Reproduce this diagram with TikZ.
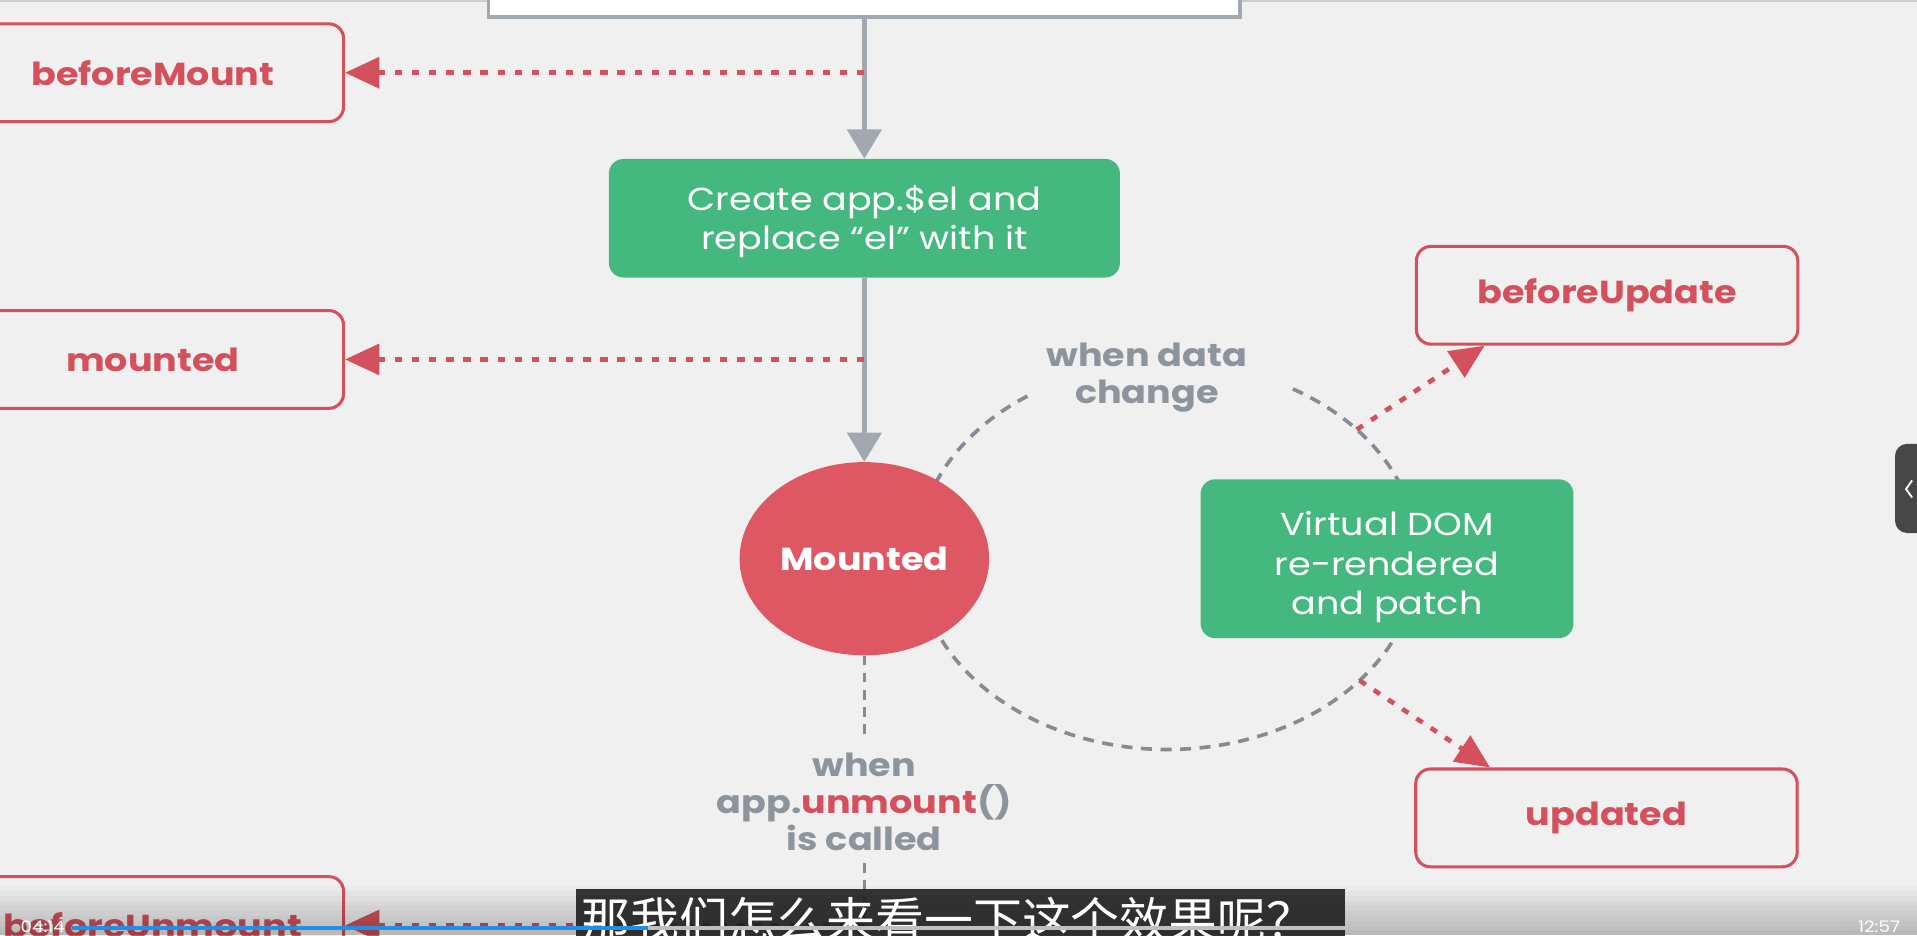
\documentclass[tikz,border=0pt]{standalone}
\usepackage{fontspec}
\setmainfont{Poppins}[FakeStretch=1.15]
\newfontfamily\cjk{Noto Sans CJK SC}
\usetikzlibrary{arrows.meta,shapes.geometric,positioning}

\definecolor{bgc}{HTML}{F0F0F0}
\definecolor{hookred}{HTML}{D4505C}
\definecolor{mountred}{HTML}{DD5863}
\definecolor{stagegreen}{HTML}{45B880}
\definecolor{flowgray}{HTML}{A1A8B0}
\definecolor{loopgray}{HTML}{868C94}
\definecolor{notegray}{HTML}{8C949D}
\definecolor{barblue}{HTML}{1E90E8}

\newcommand\hookfont{\fontsize{26}{30}\selectfont\bfseries}
\newcommand\stagefont{\fontsize{26}{32}\selectfont}
% lower the lines of a box text without changing the box
\newcommand\lowered[2]{\raisebox{-#1}[\height][\depth]{\begin{tabular}{@{}c@{}}#2\end{tabular}}}

\tikzset{
  hook/.style={draw=hookred, line width=2.5pt, rounded corners=12pt, fill=bgc,
    minimum width=312pt, minimum height=80pt, text=hookred, font=\hookfont},
  stage/.style={fill=stagegreen, rounded corners=12pt, text=white, align=center, font=\stagefont},
  flow/.style={draw=flowgray, line width=3.5pt, -{Triangle[length=24pt,width=28pt]}},
  hookarrow/.style={draw=hookred, line width=3.8pt, dash pattern=on 6pt off 8pt,
    -{Triangle[length=28pt,width=25pt]}},
  loopline/.style={draw=loopgray, line width=3pt, dash pattern=on 9pt off 7pt},
  note/.style={text=notegray, font=\hookfont, align=center, inner sep=10pt}
}

\begin{document}
\begin{tikzpicture}[x=1pt,y=-1pt]
\clip (0,0) rectangle (1568,765);
\fill[bgc] (0,0) rectangle (1568,765);
\draw[line width=2pt, black!20] (0,1) -- (1568,1);

% creation part
\node[draw=flowgray, fill=white, line width=3pt, minimum width=615pt, minimum height=60pt] (init) at (707,-16) {};
\node[stage, minimum width=418pt, minimum height=97pt] (create) at (707,178.5) {\lowered{3pt}{Create app.\$el and\\replace “el” with it}};

% update loop
\coordinate (loopc) at (955,455);
\draw[loopline] (loopc) ++(-60:205 and 158) arc[start angle=-60, end angle=236, x radius=205, y radius=158];
\node[note] (dataLbl) at (938,309) {when data\\change};

\node[ellipse, fill=mountred, minimum width=204pt, minimum height=158pt, text=white, font=\hookfont] (mounted) at (707,457) {Mounted};
\node[stage, minimum width=305pt, minimum height=130pt] (vdom) at (1134.5,457) {\lowered{7pt}{Virtual DOM\\re-rendered\\and patch}};

\draw[flow] (init) -- (create);
\draw[flow] (create) -- (mounted);

% hooks
\node[hook] (beforeMount) at (125,59.5) {beforeMount};
\node[hook] (mountedHook) at (125,294) {mounted};
\node[hook] (beforeUnmount) at (125,757) {beforeUnmount};
\node[hook] (beforeUpdate) at (1314.5,241.5) {beforeUpdate};
\node[hook] (updated) at (1314,669) {updated};

\coordinate (bmHook) at (init.south |- beforeMount.east);
\coordinate (mdHook) at (create.south |- mountedHook.east);
\draw[hookarrow] (bmHook) -- (beforeMount);
\draw[hookarrow] (mdHook) -- (mountedHook);

\coordinate (updOut) at ([shift={(-41:205 and 158)}]loopc);
\coordinate (updIn) at ([shift={(40:205 and 158)}]loopc);
\draw[hookarrow] (updOut) -- ([xshift=57pt]beforeUpdate.south west);
\draw[hookarrow] (updIn) -- ([xshift=62pt]updated.north west);

% unmount
\node[note] (unmountLbl) at (707,656) {when\\app.\textcolor{hookred}{unmount}()\\is called};
\draw[loopline, dash pattern=on 8pt off 6pt] (mounted.south) -- (unmountLbl.north);
\coordinate (buHook) at (unmountLbl.south |- beforeUnmount.east);
\draw[loopline, dash pattern=on 8pt off 6pt] (unmountLbl.south) -- (buHook);
\draw[hookarrow] (buHook) -- (beforeUnmount);

% player overlay
\foreach \i in {0,...,9}
  \fill[black, opacity=0.025] (0,{725+4*\i}) rectangle (1568,765);
\node[fill=black!88, fill opacity=0.9, minimum width=629pt, minimum height=40pt, inner sep=0pt] (subBar) at (785.5,747) {};
\node[text=white, font=\cjk\fontsize{40}{40}\selectfont, anchor=base] (subText) at (776,768) {那我们怎么来看一下这个效果呢？};
\draw[line width=3pt, black!25] (530,759) -- (1510,759);
\draw[line width=3pt, barblue] (59,759) -- (530,759);
\node[text=white, font=\fontsize{13}{13}\selectfont, inner sep=1pt] (tNow) at (35,758) {04:14};
\node[text=white, font=\fontsize{13}{13}\selectfont, inner sep=1pt] (tAll) at (1537,758) {12:57};
\fill[black!72, rounded corners=10pt] (1550,363) rectangle (1585,436);
\draw[white, line width=1.5pt] (1564,393) -- (1559,400) -- (1564,407);
\end{tikzpicture}
\end{document}
